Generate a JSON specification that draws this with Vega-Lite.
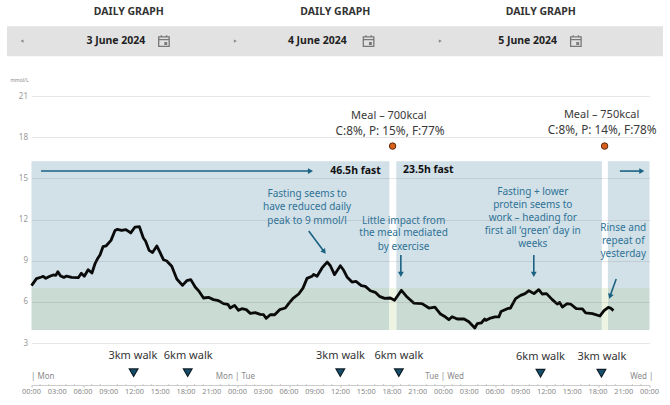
{
"$schema":"https://vega.github.io/schema/vega-lite/v6.json",
"width":618,"height":247,
"autosize":"none",
"padding":{"left":31.5,"top":96,"right":20.5,"bottom":62},
"background":"white",
"config":{"view":{"stroke":null},"font":"Noto Sans","text":{"font":"Noto Sans"}},
"datasets":{
"bands":[
{"a":0,"b":41.7,"lo":7,"hi":16.25,"kind":"fast"},
{"a":42.5,"b":66.45,"lo":7,"hi":16.25,"kind":"fast"},
{"a":67.15,"b":72,"lo":7,"hi":16.25,"kind":"fast"},
{"a":0,"b":41.7,"lo":3.95,"hi":7,"kind":"fast in range"},
{"a":42.5,"b":66.45,"lo":3.95,"hi":7,"kind":"fast in range"},
{"a":67.15,"b":72,"lo":3.95,"hi":7,"kind":"fast in range"},
{"a":41.7,"b":42.5,"lo":3.95,"hi":7,"kind":"meal in range"},
{"a":66.45,"b":67.15,"lo":3.95,"hi":7,"kind":"meal in range"}
],
"glucose":[
{"h":0,"v":7.18},{"h":0.58,"v":7.69},{"h":1.17,"v":7.81},{"h":1.36,"v":7.86},{"h":1.67,"v":7.71},{"h":2.14,"v":7.86},{"h":2.53,"v":7.96},{"h":2.84,"v":7.93},{"h":3.07,"v":8.2},{"h":3.39,"v":7.88},{"h":3.77,"v":7.78},{"h":4.09,"v":7.88},{"h":4.67,"v":7.78},{"h":5.45,"v":7.76},{"h":5.8,"v":8.08},{"h":6.15,"v":7.86},{"h":6.6,"v":8.34},{"h":7.04,"v":8.1},{"h":7.4,"v":8.78},{"h":7.67,"v":9.12},{"h":7.98,"v":9.41},{"h":8.33,"v":10.02},{"h":8.68,"v":10.07},{"h":9.26,"v":10.48},{"h":9.73,"v":11.2},{"h":10,"v":11.28},{"h":10.5,"v":11.2},{"h":11,"v":11.26},{"h":11.56,"v":11.02},{"h":12.06,"v":11.45},{"h":12.57,"v":11.48},{"h":13.03,"v":10.65},{"h":13.3,"v":10.41},{"h":13.7,"v":9.75},{"h":14.1,"v":9.6},{"h":14.6,"v":10.07},{"h":15,"v":9.56},{"h":15.37,"v":9.07},{"h":15.76,"v":8.98},{"h":16.34,"v":8.59},{"h":16.93,"v":7.66},{"h":17.59,"v":7.2},{"h":18.09,"v":7.54},{"h":18.56,"v":7.62},{"h":19.07,"v":7.08},{"h":19.53,"v":6.76},{"h":20.04,"v":6.28},{"h":20.62,"v":6.33},{"h":21.2,"v":6.16},{"h":21.79,"v":6.08},{"h":22.37,"v":5.87},{"h":22.88,"v":5.82},{"h":23.15,"v":5.55},{"h":23.66,"v":5.74},{"h":24.12,"v":5.38},{"h":24.51,"v":5.5},{"h":25.02,"v":5.43},{"h":25.49,"v":5.16},{"h":26.07,"v":5.21},{"h":26.65,"v":5.09},{"h":27.04,"v":5.06},{"h":27.35,"v":4.8},{"h":27.82,"v":5.06},{"h":28.33,"v":5.06},{"h":28.91,"v":5.43},{"h":29.57,"v":5.55},{"h":29.96,"v":5.87},{"h":30.47,"v":6.25},{"h":31.13,"v":6.57},{"h":31.63,"v":7.0},{"h":32.1,"v":7.71},{"h":32.68,"v":7.86},{"h":32.87,"v":8.0},{"h":33.27,"v":7.86},{"h":33.85,"v":8.47},{"h":34.44,"v":8.9},{"h":34.82,"v":8.63},{"h":35.3,"v":7.98},{"h":35.98,"v":8.63},{"h":36.37,"v":8.3},{"h":36.76,"v":7.81},{"h":37.34,"v":7.44},{"h":37.8,"v":7.49},{"h":38.43,"v":7.18},{"h":38.9,"v":7.13},{"h":39.48,"v":6.81},{"h":40.05,"v":6.69},{"h":40.53,"v":6.4},{"h":41.15,"v":6.25},{"h":41.8,"v":6.28},{"h":42.3,"v":6.11},{"h":43.1,"v":6.84},{"h":43.76,"v":6.35},{"h":44.53,"v":5.91},{"h":45.5,"v":5.87},{"h":46.3,"v":5.55},{"h":47,"v":5.62},{"h":47.65,"v":5.11},{"h":48.24,"v":4.89},{"h":48.62,"v":4.7},{"h":49,"v":4.92},{"h":49.6,"v":4.75},{"h":50.4,"v":4.75},{"h":50.95,"v":4.55},{"h":51.65,"v":4.09},{"h":51.93,"v":4.41},{"h":52.4,"v":4.46},{"h":52.8,"v":4.75},{"h":52.97,"v":4.65},{"h":53.48,"v":4.82},{"h":54,"v":4.9},{"h":54.45,"v":4.9},{"h":54.7,"v":5.3},{"h":55.43,"v":5.5},{"h":55.8,"v":5.55},{"h":56.4,"v":6.23},{"h":56.98,"v":6.47},{"h":57.5,"v":6.6},{"h":57.95,"v":6.81},{"h":58.54,"v":6.6},{"h":59.1,"v":6.89},{"h":59.5,"v":6.57},{"h":60,"v":6.6},{"h":60.67,"v":6.16},{"h":61.25,"v":5.84},{"h":61.53,"v":5.96},{"h":61.85,"v":5.62},{"h":62.4,"v":5.87},{"h":62.8,"v":5.84},{"h":63.47,"v":5.5},{"h":64.18,"v":5.48},{"h":64.56,"v":5.19},{"h":65.35,"v":5.14},{"h":66.23,"v":4.97},{"h":66.7,"v":5.36},{"h":67.2,"v":5.6},{"h":67.5,"v":5.53},{"h":67.8,"v":5.36}
],
"hours":[{"h":0,"v":3},{"h":72,"v":3}],
"hourLabels":[{"h":0,"v":-0.6,"t":"00:00"},{"h":3,"v":-0.6,"t":"03:00"},{"h":6,"v":-0.6,"t":"06:00"},{"h":9,"v":-0.6,"t":"09:00"},{"h":12,"v":-0.6,"t":"12:00"},{"h":15,"v":-0.6,"t":"15:00"},{"h":18,"v":-0.6,"t":"18:00"},{"h":21,"v":-0.6,"t":"21:00"},{"h":24,"v":-0.6,"t":"00:00"},{"h":27,"v":-0.6,"t":"03:00"},{"h":30,"v":-0.6,"t":"06:00"},{"h":33,"v":-0.6,"t":"09:00"},{"h":36,"v":-0.6,"t":"12:00"},{"h":39,"v":-0.6,"t":"15:00"},{"h":42,"v":-0.6,"t":"18:00"},{"h":45,"v":-0.6,"t":"21:00"},{"h":48,"v":-0.6,"t":"00:00"},{"h":51,"v":-0.6,"t":"03:00"},{"h":54,"v":-0.6,"t":"06:00"},{"h":57,"v":-0.6,"t":"09:00"},{"h":60,"v":-0.6,"t":"12:00"},{"h":63,"v":-0.6,"t":"15:00"},{"h":66,"v":-0.6,"t":"18:00"},{"h":69,"v":-0.6,"t":"21:00"},{"h":72,"v":-0.6,"t":"00:00"}],
"hourTicks":[{"h":1,"v":-0.06},{"h":2,"v":-0.06},{"h":4,"v":-0.06},{"h":5,"v":-0.06},{"h":7,"v":-0.06},{"h":8,"v":-0.06},{"h":10,"v":-0.06},{"h":11,"v":-0.06},{"h":13,"v":-0.06},{"h":14,"v":-0.06},{"h":16,"v":-0.06},{"h":17,"v":-0.06},{"h":19,"v":-0.06},{"h":20,"v":-0.06},{"h":22,"v":-0.06},{"h":23,"v":-0.06},{"h":25,"v":-0.06},{"h":26,"v":-0.06},{"h":28,"v":-0.06},{"h":29,"v":-0.06},{"h":31,"v":-0.06},{"h":32,"v":-0.06},{"h":34,"v":-0.06},{"h":35,"v":-0.06},{"h":37,"v":-0.06},{"h":38,"v":-0.06},{"h":40,"v":-0.06},{"h":41,"v":-0.06},{"h":43,"v":-0.06},{"h":44,"v":-0.06},{"h":46,"v":-0.06},{"h":47,"v":-0.06},{"h":49,"v":-0.06},{"h":50,"v":-0.06},{"h":52,"v":-0.06},{"h":53,"v":-0.06},{"h":55,"v":-0.06},{"h":56,"v":-0.06},{"h":58,"v":-0.06},{"h":59,"v":-0.06},{"h":61,"v":-0.06},{"h":62,"v":-0.06},{"h":64,"v":-0.06},{"h":65,"v":-0.06},{"h":67,"v":-0.06},{"h":68,"v":-0.06},{"h":70,"v":-0.06},{"h":71,"v":-0.06}],
"bar":[{"a":-2.86,"b":73.57,"lo":23.9,"hi":26.09}],
"headers":[{"h":11.34,"v":27.11,"t":"DAILY GRAPH"},{"h":35.4,"v":27.11,"t":"DAILY GRAPH"},{"h":59.33,"v":27.11,"t":"DAILY GRAPH"}],
"dates":[{"h":9.83,"v":25,"t":"3 June 2024"},{"h":33.3,"v":25,"t":"4 June 2024"},{"h":57.8,"v":25,"t":"5 June 2024"}],
"icons":[{"h":15.43,"v":25},{"h":39.27,"v":25},{"h":63.42,"v":25}],
"prev":[{"h":-1.11,"v":25}],
"next":[{"h":23.75,"v":25},{"h":47.63,"v":25}],
"unit":[{"h":-1.4,"v":22.13,"t":"mmol/L"}],
"meal":[{"h":41.63,"v":19.53,"t":"Meal – 700kcal"},{"h":66.42,"v":19.6,"t":"Meal – 750kcal"}],
"macros":[{"h":41.77,"v":18.44,"t":"C:8%,  P: 15%, F:77%"},{"h":66.49,"v":18.51,"t":"C:8%,  P: 14%, F:78%"}],
"dots":[{"h":42.07,"v":17.35},{"h":66.77,"v":17.35}],
"fast":[{"h":37.75,"v":15.53,"t":"46.5h fast"},{"h":46.23,"v":15.6,"t":"23.5h fast"}],
"notes":[
{"h":32.11,"v":13.85,"t":"Fasting seems to"},{"h":32.11,"v":12.91,"t":"have reduced daily"},{"h":32.11,"v":11.92,"t":"peak to 9 mmol/l"},
{"h":43.35,"v":11.92,"t":"Little impact from"},{"h":43.35,"v":10.98,"t":"the meal mediated"},{"h":43.35,"v":10.03,"t":"by exercise"},
{"h":58.4,"v":13.97,"t":"Fasting + lower"},{"h":58.4,"v":13.03,"t":"protein seems to"},{"h":58.4,"v":12.09,"t":"work – heading for"},{"h":58.4,"v":11.14,"t":"first all ‘green’ day in"},{"h":58.4,"v":10.19,"t":"weeks"},
{"h":68.94,"v":11.4,"t":"Rinse and"},{"h":68.94,"v":10.45,"t":"repeat of"},{"h":68.94,"v":9.5,"t":"yesterday"}],
"arrows":[
{"h":1.11,"v":15.53,"h2":32.5,"v2":15.53,"dir":90},
{"h":68.55,"v":15.53,"h2":71.1,"v2":15.53,"dir":90},
{"h":32.3,"v":11.16,"h2":34.1,"v2":9.65,"dir":143.6},
{"h":43.03,"v":9.41,"h2":43.03,"v2":8.0,"dir":180},
{"h":58.52,"v":9.41,"h2":58.52,"v2":8.0,"dir":180},
{"h":68.12,"v":7.66,"h2":67.4,"v2":6.4,"dir":199.8}],
"walks":[{"h":11.81,"v":2.05,"t":"3km walk"},{"h":18.26,"v":2.05,"t":"6km walk"},{"h":36,"v":2.05,"t":"3km walk"},{"h":42.8,"v":2.05,"t":"6km walk"},{"h":59.3,"v":1.98,"t":"6km walk"},{"h":66.45,"v":1.98,"t":"3km walk"}],
"walkMarks":[{"h":11.9,"v":0.84},{"h":18.2,"v":0.84},{"h":35.98,"v":0.84},{"h":42.8,"v":0.84},{"h":59.3,"v":0.8},{"h":66.4,"v":0.8}],
"daysLeft":[{"h":-0.06,"v":0.52,"t":"| Mon"}],
"daysMid":[{"h":23.75,"v":0.52,"t":"Mon | Tue"},{"h":48.13,"v":0.52,"t":"Tue | Wed"},{"h":71.1,"v":0.52,"t":"Wed |"}]
},
"encoding":{
"x":{"field":"h","type":"quantitative","title":null,"scale":{"domain":[0,72],"nice":false,"zero":false}},
"y":{"field":"v","type":"quantitative","title":null,"scale":{"domain":[3,21],"nice":false,"zero":false}}
},
"layer":[
{"data":{"name":"hours"},"mark":{"type":"line","opacity":0},
"encoding":{
"x":{"field":"h","type":"quantitative","title":null,"scale":{"domain":[0,72],"nice":false,"zero":false},
"axis":{"values":[0,3,6,9,12,15,18,21,24,27,30,33,36,39,42,45,48,51,54,57,60,63,66,69,72],"labels":false,"offset":42,"grid":false,"domainColor":"#cccccc","tickColor":"#bbbbbb","tickSize":2,"title":null}},
"y":{"field":"v","type":"quantitative","title":null,"scale":{"domain":[3,21],"nice":false,"zero":false},
"axis":{"values":[3,6,9,12,15,18,21],"domain":false,"ticks":false,"grid":true,"gridColor":"#777777","gridOpacity":0.18,"gridWidth":1,"labelFontSize":8,"labelColor":"#999999","labelPadding":4,"title":null,"zindex":1}}}},
{"data":{"name":"hourTicks"},"mark":{"type":"tick","orient":"vertical","size":2,"thickness":1,"color":"#bbbbbb"}},
{"data":{"name":"bar"},"mark":{"type":"rect","color":"#e2e2e2"},"encoding":{"x":{"field":"a","type":"quantitative"},"x2":{"field":"b"},"y":{"field":"lo","type":"quantitative"},"y2":{"field":"hi"}}},
{"data":{"name":"bands"},"mark":{"type":"rect"},"encoding":{"x":{"field":"a","type":"quantitative"},"x2":{"field":"b"},"y":{"field":"lo","type":"quantitative"},"y2":{"field":"hi"},
"color":{"field":"kind","type":"nominal","legend":null,"scale":{"domain":["fast","fast in range","meal in range"],"range":["#d2e0e8","#c9dbd3","#eef4e2"]}}}},
{"data":{"name":"glucose"},"mark":{"type":"line","color":"#0a0a0a","strokeWidth":2.8,"strokeJoin":"round"}},
{"data":{"name":"arrows"},"mark":{"type":"rule","color":"#1a6282","strokeWidth":1.6},"encoding":{"x2":{"field":"h2"},"y2":{"field":"v2"}}},
{"data":{"name":"arrows"},"mark":{"type":"point","shape":"triangle-up","filled":true,"color":"#1a6282","size":34,"opacity":1},"encoding":{"x":{"field":"h2","type":"quantitative"},"y":{"field":"v2","type":"quantitative"},"angle":{"field":"dir","type":"quantitative","scale":null}}},
{"data":{"name":"dots"},"mark":{"type":"point","shape":"circle","filled":true,"fill":"#d9601a","stroke":"#5a2a10","strokeWidth":1,"size":42,"opacity":1}},
{"data":{"name":"walkMarks"},"mark":{"type":"point","shape":"triangle-down","filled":true,"fill":"#14506e","stroke":"#0f1e28","strokeWidth":1.2,"size":75,"opacity":1}},
{"data":{"name":"icons"},"mark":{"type":"point","shape":"M-1,-0.8H1V1H-1Z M-1,-0.3H1 M-0.5,-1.1V-0.7 M0.5,-1.1V-0.7 M0.2,0.3H0.5V0.6H0.2Z","filled":false,"stroke":"#777777","strokeWidth":1.3,"size":110,"opacity":1}},
{"data":{"name":"prev"},"mark":{"type":"point","shape":"triangle-left","filled":true,"color":"#888888","size":12,"opacity":1}},
{"data":{"name":"next"},"mark":{"type":"point","shape":"triangle-right","filled":true,"color":"#888888","size":12,"opacity":1}},
{"data":{"name":"headers"},"mark":{"type":"text","fontSize":10.5,"fontWeight":"bold","color":"#333333","font":"Noto Sans"},"encoding":{"text":{"field":"t"}}},
{"data":{"name":"dates"},"mark":{"type":"text","fontSize":10.5,"fontWeight":"bold","color":"#222222","font":"Noto Sans"},"encoding":{"text":{"field":"t"}}},
{"data":{"name":"unit"},"mark":{"type":"text","fontSize":5,"color":"#888888"},"encoding":{"text":{"field":"t"}}},
{"data":{"name":"meal"},"mark":{"type":"text","fontSize":11,"color":"#3a3a3a"},"encoding":{"text":{"field":"t"}}},
{"data":{"name":"macros"},"mark":{"type":"text","fontSize":11.8,"color":"#3a3a3a"},"encoding":{"text":{"field":"t"}}},
{"data":{"name":"fast"},"mark":{"type":"text","fontSize":10.5,"fontWeight":"bold","color":"#111111"},"encoding":{"text":{"field":"t"}}},
{"data":{"name":"notes"},"mark":{"type":"text","fontSize":10,"color":"#2f7396"},"encoding":{"text":{"field":"t"}}},
{"data":{"name":"walks"},"mark":{"type":"text","fontSize":11,"color":"#333333"},"encoding":{"text":{"field":"t"}}},
{"data":{"name":"daysLeft"},"mark":{"type":"text","fontSize":8,"color":"#8a8a8a","align":"left"},"encoding":{"text":{"field":"t"}}},
{"data":{"name":"daysMid"},"mark":{"type":"text","fontSize":8,"color":"#8a8a8a"},"encoding":{"text":{"field":"t"}}},
{"data":{"name":"hourLabels"},"mark":{"type":"text","fontSize":7.4,"color":"#888888"},"encoding":{"text":{"field":"t"}}}
]
}
